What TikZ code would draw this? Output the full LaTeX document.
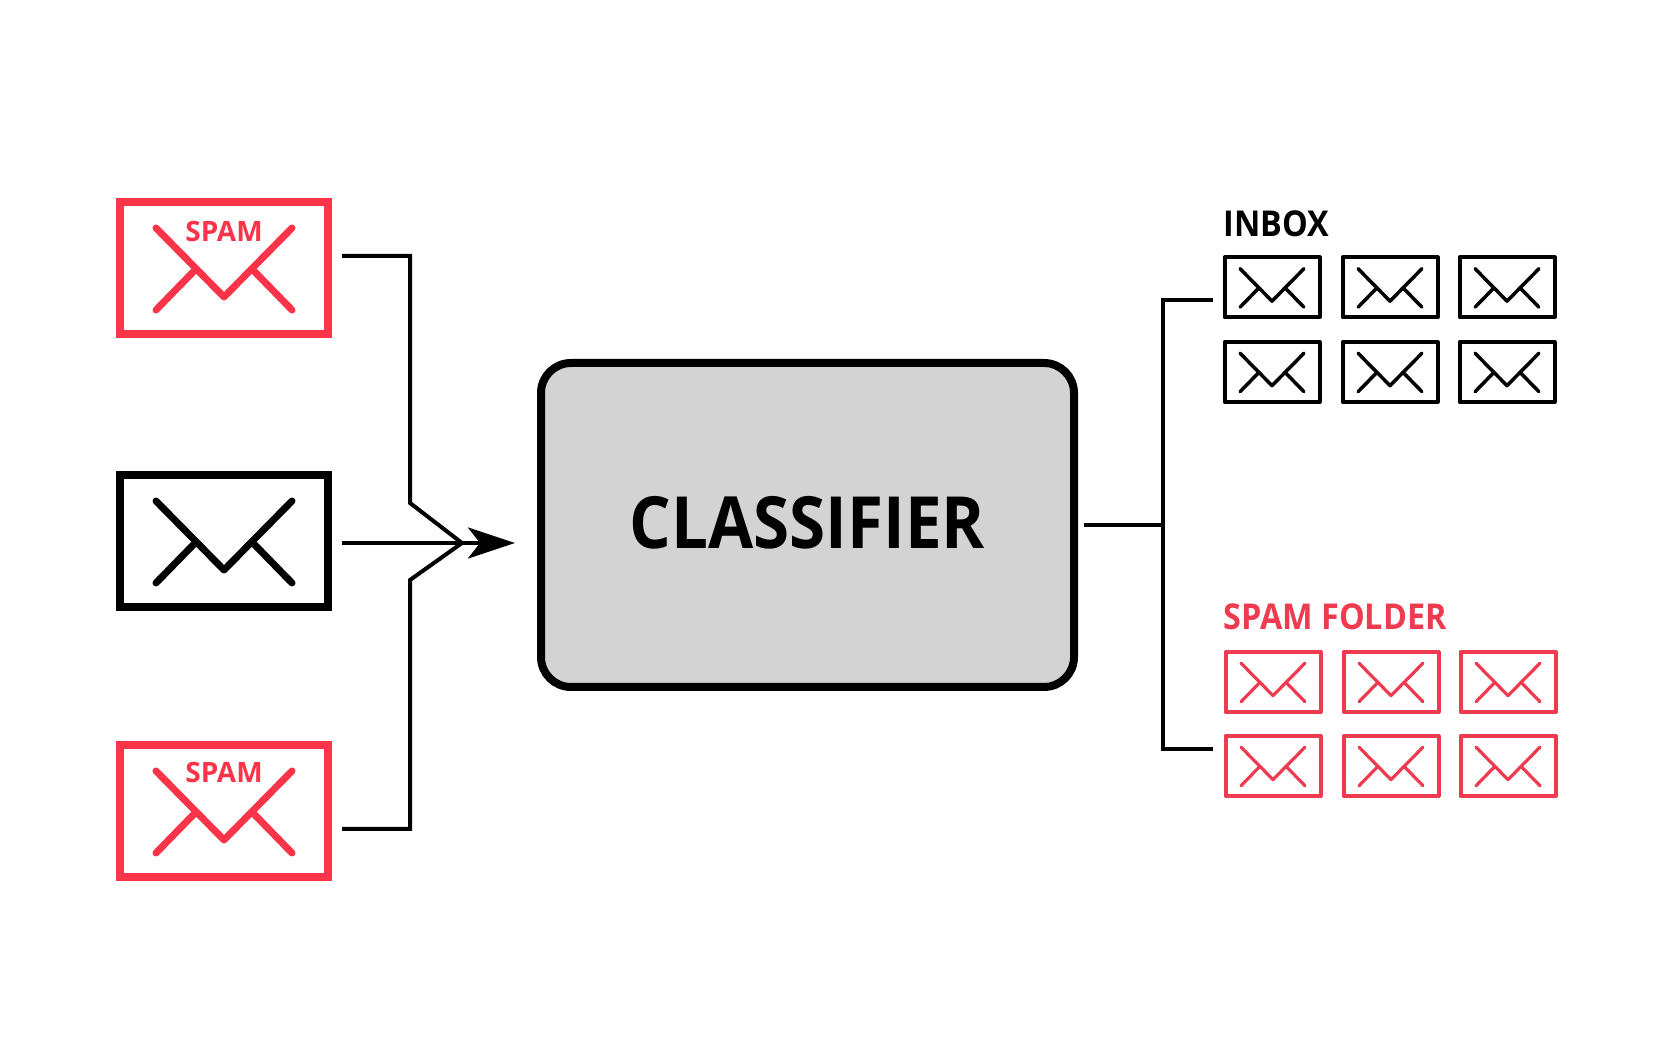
\documentclass[tikz,border=0pt]{standalone}
\usepackage{fontspec}
\setmainfont{Open Sans}[FakeStretch=0.91]
\newfontfamily\tagfont{Open Sans}
\usetikzlibrary{arrows.meta,positioning,calc}
\definecolor{spamred}{HTML}{FB3449}
\definecolor{folderred}{HTML}{EE3B50}
\definecolor{boxgray}{HTML}{D3D3D3}

\begin{document}
\begin{tikzpicture}[
    x=0.5pt,y=-0.5pt,
    mailbig/.style={draw=#1,line width=4pt,minimum width=104pt,minimum height=66pt,
        inner sep=0pt,line join=miter},
    mailsmall/.style={draw=#1,line width=2pt,minimum width=47.5pt,minimum height=30pt,
        inner sep=0pt,line join=round},
    mailflap/.pic={
        \draw[line cap=round,line join=round] (-68,-40)--(0,29)--(68,-40);
        \draw[line cap=round] (-68,42)--(-29,2);
        \draw[line cap=round] (29,2)--(68,42);
    },
    wire/.style={draw=black,line width=2pt,line join=miter},
    wirearrow/.style={-{Stealth[length=23.5pt,width=15.5pt,inset=6pt]},draw=black,line width=2pt},
    spamtag/.style={text=spamred,font=\tagfont\fontsize{14}{14}\selectfont\bfseries,inner sep=0pt},
    foldertag/.style={anchor=base west,font=\fontsize{17.8}{17.8}\selectfont\bfseries,inner sep=0pt}
]
\useasboundingbox (0,0) rectangle (1667,1042);

\node[mailbig=spamred] (mailtop) at (224,268) {};
\pic[draw=spamred,line width=3.5pt] at (mailtop.center) {mailflap};
\node[spamtag] (spamtop) at (224,231.5) {SPAM};
\node[mailbig=black] (mailmid) at (224,541) {};
\pic[draw=black,line width=3.5pt] at (mailmid.center) {mailflap};
\node[mailbig=spamred] (mailbot) at (224,811) {};
\pic[draw=spamred,line width=3.5pt] at (mailbot.center) {mailflap};
\node[spamtag] (spambot) at (224,773) {SPAM};

\node[draw=black,fill=boxgray,line width=4pt,rounded corners=15pt,minimum width=266.5pt,
    minimum height=162pt,text depth=2.5pt,font=\fontsize{36}{36}\selectfont\bfseries] (classifier) at (807.5,525) {CLASSIFIER};

\node[foldertag] (inbox) at (1223,237) {INBOX};
\node[foldertag,text=folderred] (spamfolder) at (1223,630) {SPAM FOLDER};

\foreach \nx/\px in {1/1272,2/1390,3/1507}{
    \foreach \ny/\py in {1/287.5,2/372}{
        \node[mailsmall=black] (inbox\nx\ny) at (\px,\py) {};
        \pic[draw=black,scale=0.47,line width=1.75pt] at (inbox\nx\ny.center) {mailflap};
    }
    \foreach \ny/\py in {1/682,2/766}{
        \node[mailsmall=folderred] (folder\nx\ny) at (\px+1,\py) {};
        \pic[draw=folderred,scale=0.47,line width=1.6pt] at (folder\nx\ny.center) {mailflap};
    }
}

\coordinate (topstart) at (342,256);
\coordinate (botstart) at (342,829);
\coordinate (midstart) at (342,543);
\coordinate (joint) at (462,543);
\coordinate (tip) at (515,543);
\coordinate (topbend) at (410,503);
\coordinate (botbend) at (410,580);
\coordinate (busmid) at (1163,0 |- classifier.east);
\coordinate (inboxend) at (1213,300);
\coordinate (folderend) at (1213,749);

\draw[wire] (topstart)-|(topbend)--(joint);
\draw[wire] (botstart)-|(botbend)--(joint);
\draw[wirearrow] (midstart)--(tip);
\draw[wire,shorten <=3pt] (classifier.east)--(busmid);
\draw[wire] (inboxend)-|(busmid);
\draw[wire] (folderend)-|(busmid);
\end{tikzpicture}
\end{document}
